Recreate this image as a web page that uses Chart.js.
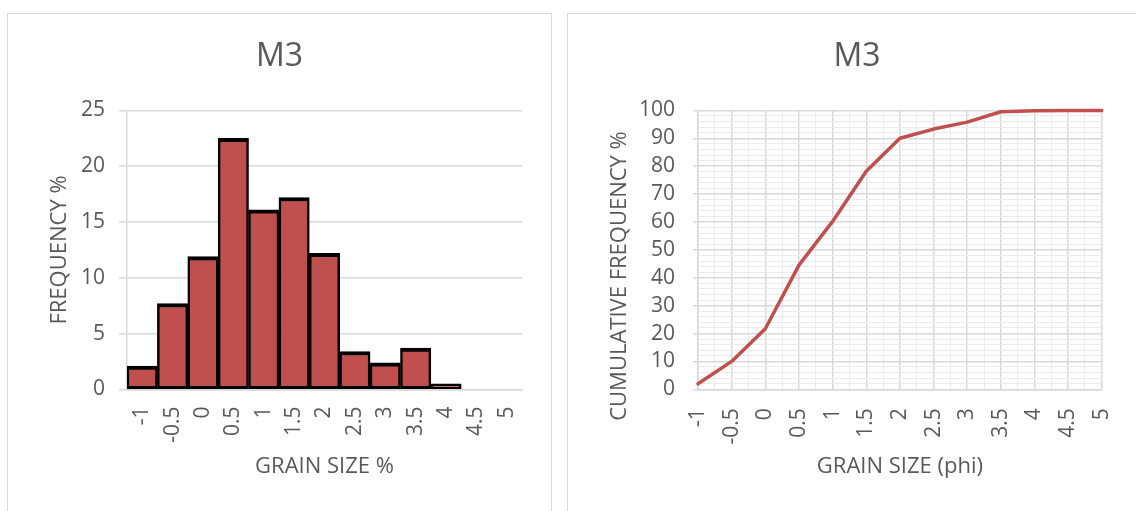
<!DOCTYPE html>
<html>
<head>
<meta charset="utf-8">
<script src="https://cdn.jsdelivr.net/npm/chart.js@4.4.0/dist/chart.umd.min.js"></script>
<style>
  html, body { margin: 0; padding: 0; background: #fff; overflow: hidden; }
  body { width: 1136px; height: 511px; position: relative; }
  .panel { position: absolute; top: 13px; border: 1px solid #d9d9d9; background: #fff; }
  #freqPanel { left: 7px; width: 543px; height: 520px; }
  #cumPanel { left: 567px; width: 600px; height: 520px; }
  canvas { display: block; }
</style>
</head>
<body>
<div class="panel" id="freqPanel"><canvas id="freqChart" width="543" height="497"></canvas></div>
<div class="panel" id="cumPanel"><canvas id="cumChart" width="578" height="497"></canvas></div>
<script>
// grain size classes (phi)
const grainSizes = [-1, -0.5, 0, 0.5, 1, 1.5, 2, 2.5, 3, 3.5, 4, 4.5, 5];
// weight % retained per class
const frequency = [2.1, 7.7, 11.9, 22.5, 16.1, 17.2, 12.2, 3.4, 2.4, 3.7, 0.5, null, null];
// cumulative weight %
const cumulative = [2, 10, 21.7, 44.5, 60.2, 78.2, 90, 93.3, 95.8, 99.5, 99.9, 100, 100];

const TEXT = '#595959';
const GRID = '#d9d9d9';
const MINOR = '#ebebeb';
const RED = '#c0504d';
const FONT = "'Open Sans', sans-serif";

Chart.defaults.font.family = FONT;
Chart.defaults.color = TEXT;

// vertical axis title, drawn where the plot area needs it
const sideTitle = {
  id: 'sideTitle',
  afterDraw(chart, args, opts) {
    const ctx = chart.ctx;
    ctx.save();
    ctx.translate(opts.x, opts.y);
    ctx.rotate(-Math.PI / 2);
    ctx.font = `22px ${FONT}`;
    ctx.fillStyle = TEXT;
    ctx.textAlign = 'center';
    ctx.textBaseline = 'middle';
    ctx.fillText(opts.text, 0, 0);
    ctx.restore();
  }
};

const tickFont = { size: 21 };
const titleOpts = {
  display: true,
  text: 'M3',
  color: TEXT,
  font: { size: 32, weight: 'normal' },
  padding: { top: 24, bottom: 34 }
};

new Chart(document.getElementById('freqChart'), {
  type: 'bar',
  data: {
    labels: grainSizes.map(String),
    datasets: [{
      data: frequency,
      backgroundColor: RED,
      borderColor: '#000',
      borderWidth: { top: 4, bottom: 3, left: 2.5, right: 2.5 },
      borderSkipped: false,
      barPercentage: 1,
      categoryPercentage: 1
    }]
  },
  options: {
    responsive: false,
    animation: false,
    devicePixelRatio: 1,
    layout: { padding: { left: 29, right: 29, top: 0, bottom: 0 } },
    plugins: {
      legend: { display: false },
      tooltip: { enabled: false },
      title: titleOpts,
      sideTitle: { text: 'FREQUENCY %', x: 52, y: 236 }
    },
    scales: {
      x: {
        grid: { display: false, drawTicks: false },
        border: { color: GRID, width: 1.5 },
        ticks: { font: tickFont, color: TEXT, minRotation: 90, maxRotation: 90, autoSkip: false, padding: 17 },
        title: { display: true, text: 'GRAIN SIZE %', color: TEXT, font: { size: 22 }, padding: { top: 0, bottom: 31 } },
        afterFit: s => { s.height = 121.5; }
      },
      y: {
        min: 0,
        max: 25,
        ticks: { stepSize: 5, font: tickFont, color: TEXT, padding: 14 },
        grid: { color: GRID, lineWidth: 1.5, tickLength: 8 },
        border: { color: GRID, width: 1.5 },
        afterFit: s => { s.width = 90; }
      }
    }
  },
  plugins: [sideTitle]
});

const isMajorY = v => v % 10 === 0;
const isMajorX = v => (v * 2) % 1 === 0;

new Chart(document.getElementById('cumChart'), {
  type: 'line',
  data: {
    datasets: [{
      data: grainSizes.map((g, i) => ({ x: g, y: cumulative[i] })),
      borderColor: RED,
      borderWidth: 3.5,
      borderJoinStyle: 'round',
      borderCapStyle: 'round',
      pointRadius: 0,
      tension: 0,
      clip: false
    }]
  },
  options: {
    responsive: false,
    animation: false,
    devicePixelRatio: 1,
    layout: { padding: { left: 31, right: 31, top: 0, bottom: 0 } },
    plugins: {
      legend: { display: false },
      tooltip: { enabled: false },
      title: titleOpts,
      sideTitle: { text: 'CUMULATIVE FREQUENCY %', x: 52, y: 262 }
    },
    scales: {
      x: {
        type: 'linear',
        min: -1,
        max: 5,
        grid: {
          drawTicks: false,
          color: c => isMajorX(c.tick.value) ? GRID : MINOR,
          lineWidth: c => isMajorX(c.tick.value) ? 1.5 : 1
        },
        border: { color: GRID, width: 1.5 },
        ticks: {
          stepSize: 0.25,
          autoSkip: false,
          font: tickFont,
          color: TEXT,
          minRotation: 90,
          maxRotation: 90,
          padding: 19,
          callback: v => isMajorX(v) ? String(v) : ''
        },
        title: { display: true, text: 'GRAIN SIZE (phi)', color: TEXT, font: { size: 22 }, padding: { top: 0, bottom: 31 } },
        afterFit: s => { s.height = 121.7; }
      },
      y: {
        min: 0,
        max: 100,
        grid: {
          tickLength: 5,
          color: c => isMajorY(c.tick.value) ? GRID : MINOR,
          tickColor: c => isMajorY(c.tick.value) ? GRID : 'rgba(0,0,0,0)',
          lineWidth: c => isMajorY(c.tick.value) ? 1.5 : 1
        },
        border: { color: GRID, width: 1.5 },
        ticks: {
          stepSize: 2,
          autoSkip: false,
          font: tickFont,
          color: TEXT,
          padding: 18,
          callback: v => isMajorY(v) ? String(v) : ''
        },
        afterFit: s => { s.width = 99; }
      }
    }
  },
  plugins: [sideTitle]
});
</script>
</body>
</html>
